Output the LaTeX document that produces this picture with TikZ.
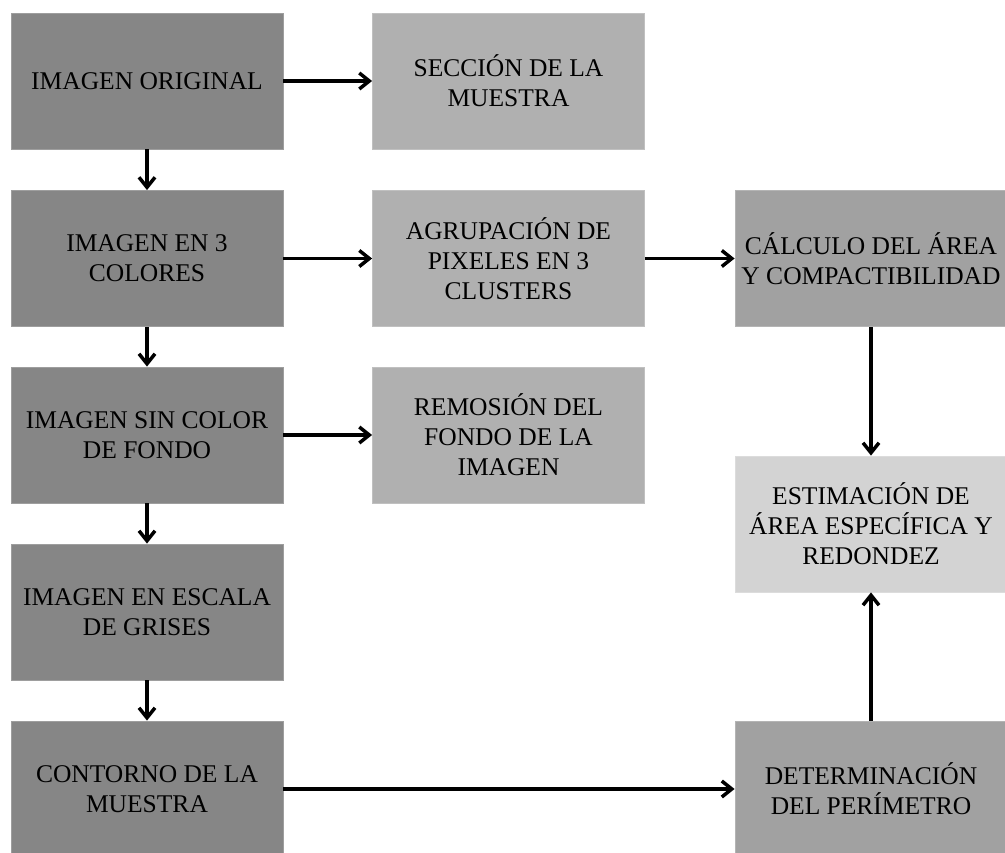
\documentclass[tikz,border=0pt]{standalone}
\usepackage{fontspec}
\setmainfont{Liberation Serif}
\usetikzlibrary{arrows.meta}
\definecolor{cdark}{HTML}{868686}
\definecolor{cmid}{HTML}{B0B0B0}
\definecolor{cright}{HTML}{A1A1A1}
\definecolor{clight}{HTML}{D3D3D3}
\tikzset{
  box/.style={rectangle, minimum width=272pt, minimum height=136pt, inner sep=0pt,
    align=center, font=\fontsize{25.5pt}{30pt}\selectfont, text=black, draw=#1!80!white, line width=0.8pt, fill=#1},
  arr/.style={line width=3.5pt, -{Straight Barb[length=10pt,width=16pt,line width=3.5pt]}}
}
\begin{document}
\begin{tikzpicture}[x=1pt,y=-1pt]
\useasboundingbox (0,0) rectangle (1005,853);
\node[box=cdark] (a1) at (147,81) {IMAGEN ORIGINAL};
\node[box=cdark] (a2) at (147,258.5) {IMAGEN EN 3\\COLORES};
\node[box=cdark] (a3) at (147,435) {IMAGEN SIN COLOR\\DE FONDO};
\node[box=cdark] (a4) at (147,612) {IMAGEN EN ESCALA\\DE GRISES};
\node[box=cdark] (a5) at (147,789) {CONTORNO DE LA\\MUESTRA};
\node[box=cmid] (b1) at (508.5,81) {SECCIÓN DE LA\\MUESTRA};
\node[box=cmid] (b2) at (508.5,258.5) {AGRUPACIÓN DE\\PIXELES EN 3\\CLUSTERS};
\node[box=cmid] (b3) at (508.5,435) {REMOSIÓN DEL\\FONDO DE LA\\IMAGEN};
\node[box=cright] (c1) at (871,258.5) {CÁLCULO DEL ÁREA\\Y COMPACTIBILIDAD};
\node[box=clight] (c2) at (871,524) {ESTIMACIÓN DE\\ÁREA ESPECÍFICA Y\\REDONDEZ};
\node[box=cright] (c3) at (871,789) {DETERMINACIÓN\\DEL PERÍMETRO};
\draw[arr] (a1) -- (b1);
\draw[arr] (a2) -- (b2);
\draw[arr] (a3) -- (b3);
\draw[arr] (b2) -- (c1);
\draw[arr] (a5) -- (c3);
\draw[arr] (a1) -- (a2);
\draw[arr] (a2) -- (a3);
\draw[arr] (a3) -- (a4);
\draw[arr] (a4) -- (a5);
\draw[arr] (c1) -- (c2);
\draw[arr] (c3) -- (c2);
\end{tikzpicture}
\end{document}
